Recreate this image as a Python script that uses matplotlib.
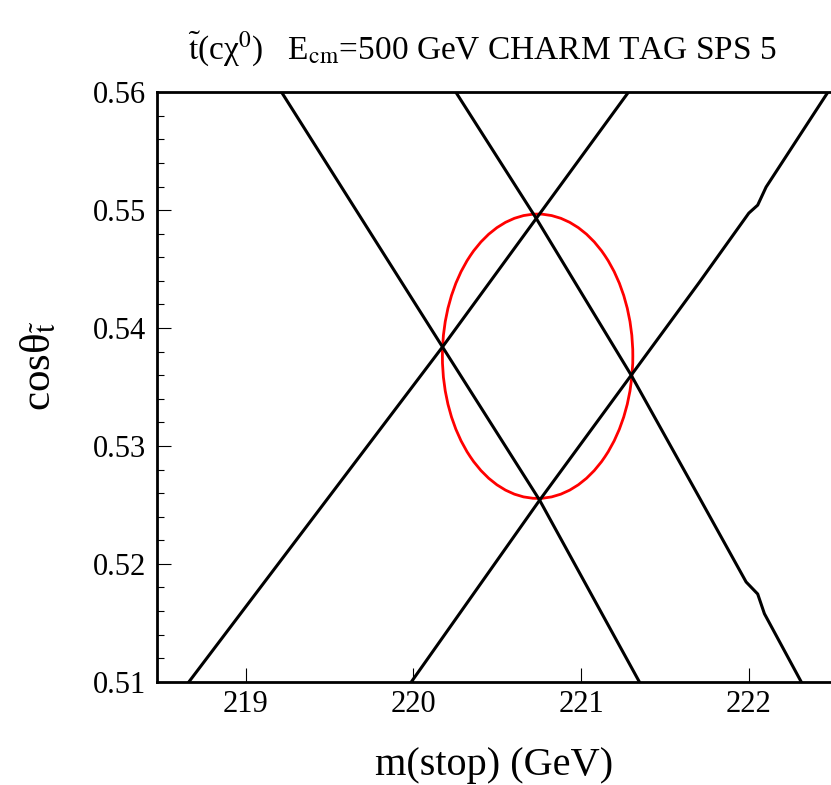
import numpy as np
import matplotlib
matplotlib.use("Agg")
import matplotlib.pyplot as plt
from matplotlib.patches import Ellipse
from matplotlib.ticker import MultipleLocator, FormatStrFormatter

plt.rcParams['font.family'] = ['Liberation Serif', 'DejaVu Serif']
plt.rcParams['mathtext.fontset'] = 'stix'

# four constraint lines (m(stop), cos theta)
lineA_x = [218.663, 220.174, 220.733, 221.282]
lineA_y = [0.51, 0.5384, 0.5493, 0.56]
lineB_x = [219.215, 220.174, 220.753, 221.347]
lineB_y = [0.56, 0.5384, 0.5254, 0.51]
lineC_x = [220.254, 220.733, 221.299, 221.706, 221.984, 222.053, 222.093, 222.312]
lineC_y = [0.56, 0.5493, 0.5360, 0.5256, 0.51846, 0.51744, 0.51577, 0.51]
lineD_x = [219.989, 220.753, 221.299, 221.706, 222.000, 222.053, 222.103, 222.471]
lineD_y = [0.51, 0.5254, 0.5360, 0.5439, 0.54975, 0.55043, 0.55196, 0.56]

# 1-sigma ellipse
ell_center = (220.741, 0.53761)
ell_width = 2 * 0.5676
ell_height = 2 * 0.01206

fig = plt.figure(figsize=(8.31, 7.85), dpi=100)
ax = fig.add_axes([157 / 831, 1 - 681.7 / 785, 1 - 157 / 831, (681.7 - 92.3) / 785])

for xs, ys in [(lineA_x, lineA_y), (lineB_x, lineB_y), (lineC_x, lineC_y), (lineD_x, lineD_y)]:
    ax.plot(xs, ys, color='black', lw=2.2, solid_joinstyle='round')

ax.add_patch(Ellipse(ell_center, ell_width, ell_height, fill=False, edgecolor='#ff0000', lw=2.0))

ax.set_xlim(218.472, 222.49)
ax.set_ylim(0.51, 0.56)
ax.set_xticks([219, 220, 221, 222])
ax.yaxis.set_major_locator(MultipleLocator(0.01))
ax.yaxis.set_minor_locator(MultipleLocator(0.002))
ax.yaxis.set_major_formatter(FormatStrFormatter('%.2f'))

ax.tick_params(axis='both', which='both', direction='in', top=False, right=False, width=0.8)
ax.tick_params(axis='both', which='major', length=10, labelsize=22)
ax.tick_params(axis='y', which='minor', length=5)
ax.tick_params(axis='y', which='major', pad=8)
ax.tick_params(axis='x', which='major', pad=6)

ax.spines['right'].set_visible(False)
for s in ['left', 'bottom', 'top']:
    ax.spines[s].set_linewidth(2.0)

ax.set_xlabel('m(stop) (GeV)', fontsize=29, labelpad=20)
ax.set_ylabel(r'cosθ$_{\tilde{\mathrm{t}}}$', fontsize=31)
ax.yaxis.set_label_coords(-0.145, 0.537)

fig.text(0.58, 1 - 58 / 785,
         r'$\tilde{\mathrm{t}}$(cχ$^{0}$)   E$_{\mathrm{cm}}$=500 GeV CHARM TAG SPS 5',
         ha='center', va='baseline', fontsize=24)

fig.savefig('out.png', dpi=100)
